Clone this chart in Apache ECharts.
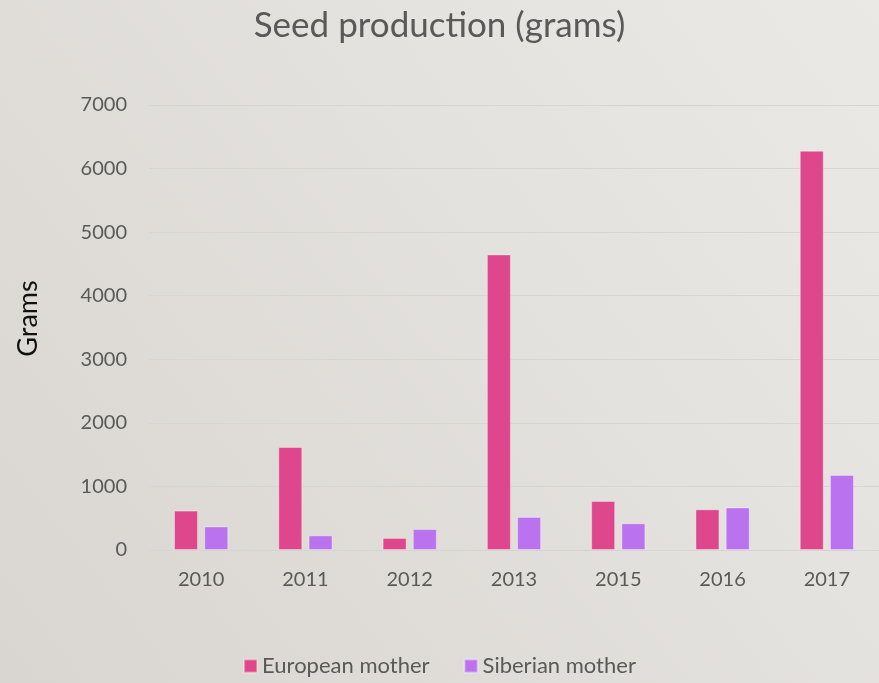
<!DOCTYPE html>
<html>
<head>
<meta charset="utf-8">
<script src="https://cdn.jsdelivr.net/npm/echarts@6/dist/echarts.min.js"></script>
<style>
  html, body { margin: 0; padding: 0; }
  #main { width: 879px; height: 683px; }
</style>
</head>
<body>
<div id="main"></div>
<script type="text/javascript">
var years = ['2010', '2011', '2012', '2013', '2015', '2016', '2017'];
var european = [620, 1620, 190, 4650, 770, 640, 6280];
var siberian = [370, 230, 330, 520, 420, 670, 1180];
var seriesNames = ['European mother', 'Siberian mother'];

var chart = echarts.init(document.getElementById('main'));

var option = {
    backgroundColor: new echarts.graphic.LinearGradient(1, 0, 0, 1, [
        { offset: 0, color: '#ebe9e6' },
        { offset: 1, color: '#d9d6d1' }
    ]),
    textStyle: { fontFamily: 'Lato' },
    title: {
        text: 'Seed production (grams)',
        left: 'center',
        top: 3,
        textStyle: { fontFamily: 'Lato', fontSize: 35, fontWeight: 'normal', color: '#595959' }
    },
    legend: {
        bottom: 1,
        left: 'center',
        itemWidth: 13,
        itemHeight: 13,
        itemGap: 34,
        icon: 'rect',
        textStyle: { fontFamily: 'Lato', fontSize: 22, color: '#595959' },
        data: seriesNames
    },
    grid: { left: 149, right: -6, top: 105, bottom: 133 },
    xAxis: {
        type: 'category',
        data: years,
        axisLine: { show: true, lineStyle: { color: '#d5d5d6' } },
        axisTick: { show: false },
        axisLabel: { fontFamily: 'Lato', fontSize: 20, color: '#595959', margin: 20 }
    },
    yAxis: {
        type: 'value',
        min: 0,
        max: 7000,
        interval: 1000,
        name: 'Grams',
        nameLocation: 'middle',
        nameGap: 107,
        nameTextStyle: { fontFamily: 'Lato', fontSize: 27, color: '#111111', padding: [0, 0, 0, 18] },
        axisLine: { show: false },
        axisTick: { show: false },
        axisLabel: {
            fontFamily: 'Lato', fontSize: 20, color: '#595959', margin: 22,
            formatter: function (v) { return String(v); }
        },
        splitLine: { lineStyle: { color: '#d5d5d6', width: 1 } }
    },
    series: [
        {
            name: seriesNames[0],
            type: 'bar',
            data: european,
            barWidth: 24,
            barGap: '26%',
            itemStyle: { color: '#de478c', borderColor: 'rgba(255,255,255,0.35)', borderWidth: 1 }
        },
        {
            name: seriesNames[1],
            type: 'bar',
            data: siberian,
            barWidth: 24,
            itemStyle: { color: '#bb72ee', borderColor: 'rgba(255,255,255,0.35)', borderWidth: 1 }
        }
    ]
};

chart.setOption(option);
</script>
</body>
</html>
